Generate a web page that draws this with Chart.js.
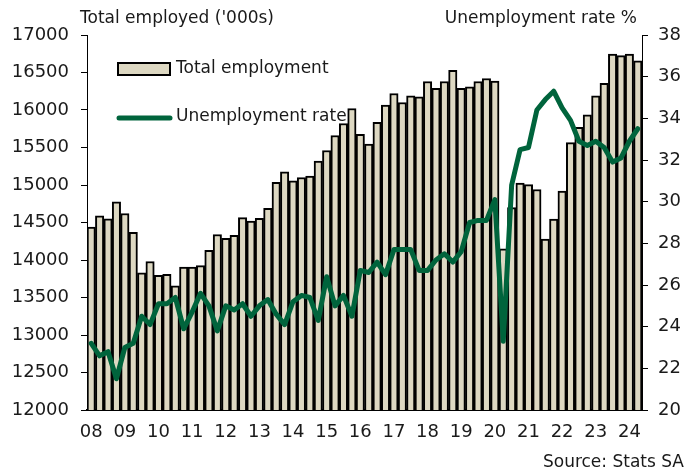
<!DOCTYPE html>
<html>
<head>
<meta charset="utf-8">
<script src="https://cdn.jsdelivr.net/npm/chart.js@4.4.1/dist/chart.umd.min.js"></script>
<style>
  html, body { margin: 0; padding: 0; background: #fff; }
  #wrap { position: relative; width: 686px; height: 475px; }
</style>
</head>
<body>
<div id="wrap"><canvas id="jobsChart"></canvas></div>
<script>
// quarterly, 2008 Q1 .. 2024 Q2
const quarters = [
    '08 Q1', '08 Q2', '08 Q3', '08 Q4', '09 Q1', '09 Q2', '09 Q3', '09 Q4',
    '10 Q1', '10 Q2', '10 Q3', '10 Q4', '11 Q1', '11 Q2', '11 Q3', '11 Q4',
    '12 Q1', '12 Q2', '12 Q3', '12 Q4', '13 Q1', '13 Q2', '13 Q3', '13 Q4',
    '14 Q1', '14 Q2', '14 Q3', '14 Q4', '15 Q1', '15 Q2', '15 Q3', '15 Q4',
    '16 Q1', '16 Q2', '16 Q3', '16 Q4', '17 Q1', '17 Q2', '17 Q3', '17 Q4',
    '18 Q1', '18 Q2', '18 Q3', '18 Q4', '19 Q1', '19 Q2', '19 Q3', '19 Q4',
    '20 Q1', '20 Q2', '20 Q3', '20 Q4', '21 Q1', '21 Q2', '21 Q3', '21 Q4',
    '22 Q1', '22 Q2', '22 Q3', '22 Q4', '23 Q1', '23 Q2', '23 Q3', '23 Q4',
    '24 Q1', '24 Q2'
];

// total employed, '000s
const employed = [
    14440, 14590, 14550, 14775, 14620, 14370, 13830, 13980,
    13795, 13810, 13655, 13905, 13905, 13925, 14130, 14340,
    14290, 14330, 14565, 14520, 14555, 14690, 15035, 15175,
    15055, 15100, 15120, 15320, 15460, 15660, 15820, 16020,
    15675, 15545, 15835, 16065, 16220, 16100, 16190, 16175,
    16380, 16290, 16380, 16530, 16290, 16310, 16380, 16420,
    16385, 14150, 14700, 15025, 15005, 14940, 14280, 14545,
    14920, 15565, 15770, 15935, 16190, 16355, 16745, 16725,
    16745, 16655
];

// unemployment rate, %
const unemploymentRate = [
    23.2, 22.6, 22.8, 21.5, 23.0, 23.2, 24.5, 24.1,
    25.1, 25.1, 25.4, 23.9, 24.7, 25.6, 25.0, 23.8,
    25.0, 24.8, 25.1, 24.5, 25.0, 25.3, 24.6, 24.1,
    25.2, 25.5, 25.4, 24.3, 26.4, 25.0, 25.5, 24.5,
    26.7, 26.6, 27.1, 26.5, 27.7, 27.7, 27.7, 26.7,
    26.7, 27.2, 27.5, 27.1, 27.6, 29.0, 29.1, 29.1,
    30.1, 23.3, 30.8, 32.5, 32.6, 34.4, 34.9, 35.3,
    34.5, 33.9, 32.9, 32.7, 32.9, 32.6, 31.9, 32.1,
    32.9, 33.5
];

const leftTicks = [12000, 17000, 500];
const rightTicks = [20, 38, 2];

const FONT = '"DejaVu Sans", sans-serif';
const barFill = '#ddd8c2';
const lineGreen = '#00643c';
const textColor = '#1a1a1a';

// legend sits under the bars, titles and source on top
const legendPlugin = {
    id: 'legendBox',
    beforeDatasetsDraw(chart) {
        const c = chart.ctx;
        c.save();
        c.fillStyle = barFill;
        c.fillRect(118, 63, 52, 12);
        c.strokeStyle = '#000';
        c.lineWidth = 2;
        c.strokeRect(118, 63, 52, 12);

        c.strokeStyle = lineGreen;
        c.lineWidth = 5;
        c.lineCap = 'round';
        c.beginPath();
        c.moveTo(119, 118);
        c.lineTo(170, 118);
        c.stroke();

        c.fillStyle = textColor;
        c.font = '17px ' + FONT;
        c.textBaseline = 'middle';
        c.textAlign = 'left';
        c.fillText('Total employment', 176, 69);
        c.fillText('Unemployment rate', 176, 117);
        c.restore();
    },
    afterDraw(chart) {
        const c = chart.ctx;
        c.save();
        c.fillStyle = textColor;
        c.font = '17px ' + FONT;
        c.textBaseline = 'middle';
        c.textAlign = 'left';
        c.fillText("Total employed ('000s)", 80, 19);
        c.textAlign = 'right';
        c.fillText('Unemployment rate %', 637, 19);
        c.fillText('Source: Stats SA', 684, 463);
        c.restore();
    }
};

const ctx = document.getElementById('jobsChart').getContext('2d');
const jobsChart = new Chart(ctx, {
    data: {
        labels: quarters,
        datasets: [{
            type: 'line',
            label: 'Unemployment rate',
            data: unemploymentRate,
            yAxisID: 'y1',
            borderColor: lineGreen,
            borderWidth: 5,
            pointRadius: 0,
            tension: 0,
            borderJoinStyle: 'round',
            borderCapStyle: 'round',
            order: 0
        }, {
            type: 'bar',
            label: 'Total employment',
            data: employed,
            yAxisID: 'y',
            backgroundColor: barFill,
            borderColor: '#000',
            borderWidth: 2,
            borderSkipped: false,
            barPercentage: 1,
            categoryPercentage: 1,
            order: 1
        }]
    },
    options: {
        responsive: true,
        maintainAspectRatio: false,
        animation: false,
        layout: { padding: { top: 35, left: 0, right: 0, bottom: 0 } },
        plugins: {
            legend: { display: false },
            tooltip: { enabled: false }
        },
        scales: {
            x: {
                grid: { display: false, drawTicks: false },
                border: { display: true, color: '#000', width: 2 },
                ticks: {
                    autoSkip: false,
                    maxRotation: 0,
                    padding: 12,
                    color: textColor,
                    font: { family: FONT, size: 18 },
                    callback: (v, i) => i % 4 === 0 ? quarters[i].slice(0, 2) : ''
                },
                afterFit: s => { s.height = 65; }
            },
            y: {
                position: 'left',
                min: leftTicks[0],
                max: leftTicks[1],
                ticks: {
                    stepSize: leftTicks[2],
                    padding: 12,
                    color: textColor,
                    font: { family: FONT, size: 18 },
                    callback: v => String(v)
                },
                grid: { drawOnChartArea: false, tickLength: 6, color: '#000' },
                border: { display: true, color: '#000', width: 1 },
                afterFit: s => { s.width = 87; }
            },
            y1: {
                position: 'right',
                min: rightTicks[0],
                max: rightTicks[1],
                ticks: {
                    stepSize: rightTicks[2],
                    padding: 10,
                    color: textColor,
                    font: { family: FONT, size: 18 },
                    callback: v => String(v)
                },
                grid: { drawOnChartArea: false, tickLength: 6, color: '#000' },
                border: { display: true, color: '#000', width: 1 },
                afterFit: s => { s.width = 44; }
            }
        }
    },
    plugins: [legendPlugin]
});
</script>
</body>
</html>
